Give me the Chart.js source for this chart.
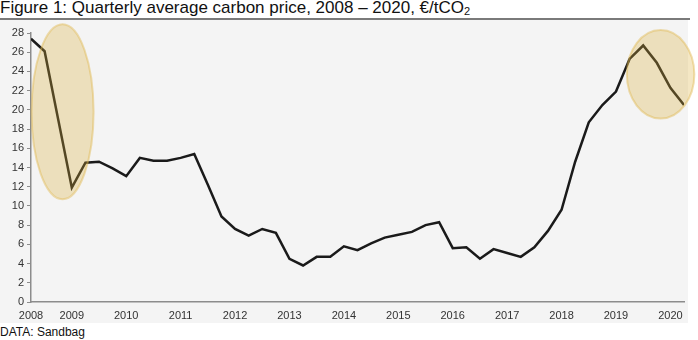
<!DOCTYPE html>
<html>
<head>
<meta charset="utf-8">
<script src="https://cdn.jsdelivr.net/npm/chart.js@4"></script>
<style>
  html, body { margin: 0; padding: 0; background: #ffffff; }
  body { width: 698px; height: 340px; position: relative; overflow: hidden; font-family: "Liberation Sans", Arial, sans-serif; }
  #title { position: absolute; left: 0; top: -1px; font-size: 17px; line-height: 18px; color: #111; white-space: nowrap; }
  #title sub { font-size: 11px; vertical-align: -2px; line-height: 0; }
  #rule { position: absolute; left: 0; top: 18px; width: 690px; height: 2px; background: #7a7a7a; }
  #wrap { position: absolute; left: 0; top: 20px; width: 698px; height: 305px; }
  #footer { position: absolute; left: 0; top: 325px; font-size: 12px; line-height: 14px; color: #111; }
</style>
</head>
<body>
<div id="title">Figure 1: Quarterly average carbon price, 2008 – 2020, €/tCO<sub>2</sub></div>
<div id="rule"></div>
<div id="wrap"><canvas id="c" width="698" height="305" style="width:698px;height:305px"></canvas></div>
<div id="footer">DATA: Sandbag</div>
<script>
// Quarters (decimal year of each quarter: 2008 Q2 ... 2020 Q2)
const quarters = [
  2008.25, 2008.5, 2008.75,
  2009.0, 2009.25, 2009.5, 2009.75,
  2010.0, 2010.25, 2010.5, 2010.75,
  2011.0, 2011.25, 2011.5, 2011.75,
  2012.0, 2012.25, 2012.5, 2012.75,
  2013.0, 2013.25, 2013.5, 2013.75,
  2014.0, 2014.25, 2014.5, 2014.75,
  2015.0, 2015.25, 2015.5, 2015.75,
  2016.0, 2016.25, 2016.5, 2016.75,
  2017.0, 2017.25, 2017.5, 2017.75,
  2018.0, 2018.25, 2018.5, 2018.75,
  2019.0, 2019.25, 2019.5, 2019.75,
  2020.0, 2020.25
];
// Quarterly average carbon price, €/tCO2
const prices = [
  27.4, 26.1, 19.0,
  11.9, 14.5, 14.6, 13.9,
  13.1, 15.0, 14.7, 14.7,
  15.0, 15.4, 12.2, 8.9,
  7.6, 6.9, 7.6, 7.2,
  4.5, 3.8, 4.7, 4.7,
  5.8, 5.4, 6.1, 6.7,
  7.0, 7.3, 8.0, 8.3,
  5.6, 5.7, 4.5, 5.5,
  5.1, 4.7, 5.7, 7.4,
  9.6, 14.6, 18.7, 20.5,
  21.9, 25.3, 26.7, 24.9,
  22.3, 20.5
];
// Year tick labels
const yearTicks = [2008.25, 2009, 2010, 2011, 2012, 2013, 2014, 2015, 2016, 2017, 2018, 2019, 2020];
const yearLabels = ["2008", "2009", "2010", "2011", "2012", "2013", "2014", "2015", "2016", "2017", "2018", "2019", "2020"];
// Highlight ellipses (centre year, centre value, half-width in years, half-height in €)
const highlightX = [2008.83, 2019.82];
const highlightY = [19.8, 23.7];
const highlightRX = [0.57, 0.62];
const highlightRY = [9.1, 4.6];

const bgPlugin = {
  id: 'bg',
  beforeDraw(chart) {
    const ctx = chart.ctx;
    ctx.save();
    ctx.fillStyle = '#f4f4f4';
    ctx.fillRect(0, 0, 688, 303);
    ctx.restore();
  }
};
const ellipsePlugin = {
  id: 'ellipses',
  afterDatasetsDraw(chart) {
    const ctx = chart.ctx, xs = chart.scales.x, ys = chart.scales.y;
    ctx.save();
    for (let i = 0; i < highlightX.length; i++) {
      const cx = xs.getPixelForValue(highlightX[i]);
      const cy = ys.getPixelForValue(highlightY[i]);
      const rx = Math.abs(xs.getPixelForValue(highlightX[i] + highlightRX[i]) - cx);
      const ry = Math.abs(ys.getPixelForValue(highlightY[i] + highlightRY[i]) - cy);
      ctx.beginPath();
      ctx.ellipse(cx, cy, rx, ry, 0, 0, Math.PI * 2);
      ctx.fillStyle = 'rgba(220,175,60,0.30)';
      ctx.fill();
      ctx.lineWidth = 2;
      ctx.strokeStyle = 'rgba(225,185,80,0.45)';
      ctx.stroke();
    }
    ctx.restore();
  }
};

new Chart(document.getElementById('c'), {
  type: 'line',
  data: {
    datasets: [{
      data: quarters.map((q, i) => ({ x: q, y: prices[i] })),
      borderColor: '#1a1a1a',
      borderWidth: 2.5,
      pointRadius: 0,
      tension: 0,
      fill: false
    }]
  },
  options: {
    responsive: false,
    animation: false,
    devicePixelRatio: 1,
    layout: { padding: { top: 13, right: 14, bottom: 3, left: 0 } },
    plugins: { legend: { display: false }, title: { display: false }, tooltip: { enabled: false } },
    scales: {
      x: {
        type: 'linear',
        min: 2008.25,
        max: 2020.25,
        afterBuildTicks(scale) { scale.ticks = yearTicks.map(v => ({ value: v })); },
        afterFit(scale) { scale.height = 20; },
        ticks: {
          autoSkip: false,
          maxRotation: 0,
          padding: 7,
          color: '#333',
          font: { family: '"Liberation Sans", Arial, sans-serif', size: 11 },
          callback(value) { const i = yearTicks.indexOf(value); return i >= 0 ? yearLabels[i] : ''; }
        },
        grid: { display: false, drawTicks: false, tickLength: 0 },
        border: { display: true, color: '#8c8c8c', width: 1.5 }
      },
      y: {
        min: 0,
        max: 28,
        afterFit(scale) { scale.width = 31; },
        ticks: {
          stepSize: 2,
          autoSkip: false,
          padding: 3,
          color: '#333',
          font: { family: '"Liberation Sans", Arial, sans-serif', size: 11 }
        },
        grid: { drawOnChartArea: false, drawTicks: true, tickLength: 4, color: '#8c8c8c' },
        border: { display: true, color: '#8c8c8c', width: 1.5 }
      }
    }
  },
  plugins: [bgPlugin, ellipsePlugin]
});
</script>
</body>
</html>
